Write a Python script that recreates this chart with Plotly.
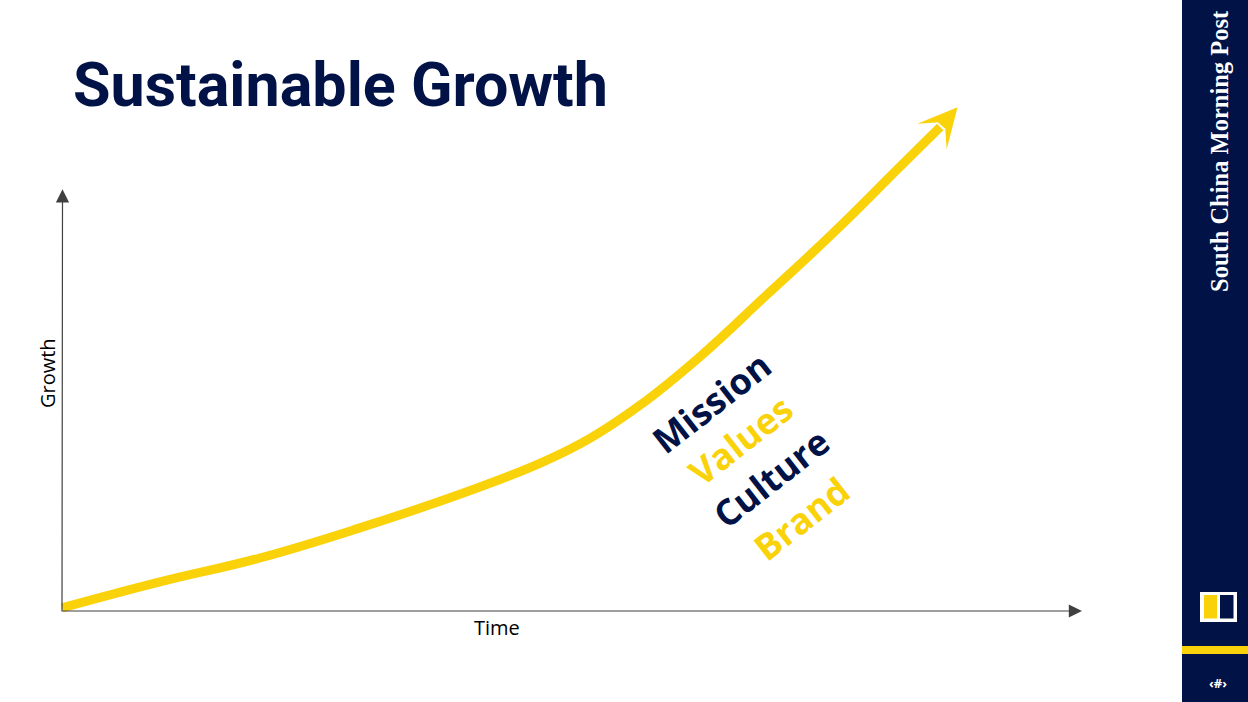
import plotly.graph_objects as go

# ---- data ----
time_vals = [0, 9.6, 19.4, 29.2, 39.0, 46.9, 51.8, 56.7, 62.5, 69.1, 75.6, 82.2, 86.1]
growth_vals = [0.4, 5.5, 10.2, 16.1, 22.7, 28.8, 33.7, 40.2, 49.6, 61.8, 73.9, 87.0, 94.7]
arrow_tip = (87.8, 98.6)
words = ["Mission", "Values", "Culture", "Brand"]
word_x = [63.7, 66.5, 69.6, 72.5]
word_y = [40.6, 33.3, 25.9, 18.0]
title_text = "Sustainable Growth"
x_label = "Time"
y_label = "Growth"
brand_text = "South China Morning Post"
page_text = "‹#›"

NAVY = "#001246"
YELLOW = "#FAD20A"
GRAY = "#404040"
W, H = 1248, 702
PX_X, PX_Y = 10.2, 5.1  # pixels per data unit
X0_PX, Y0_PX = 62, 610  # pixel of data origin

fig = go.Figure()

fig.add_trace(go.Scatter(
    x=time_vals, y=growth_vals, mode="lines",
    line=dict(color=YELLOW, width=9, shape="spline", smoothing=1.2),
    cliponaxis=False, hoverinfo="skip", showlegend=False,
))

ann = []
# arrow head of the growth curve
ann.append(dict(x=arrow_tip[0], y=arrow_tip[1], ax=time_vals[-1], ay=growth_vals[-1],
                xref="x", yref="y", axref="x", ayref="y", showarrow=True,
                arrowhead=3, arrowsize=0.72, arrowwidth=9, arrowcolor=YELLOW, text=""))
# axes with arrows
ann.append(dict(x=100, y=-0.2, ax=-0.1, ay=-0.2, xref="x", yref="y", axref="x", ayref="y",
                showarrow=True, arrowhead=2, arrowsize=2.2, arrowwidth=1.2,
                arrowcolor=GRAY, text=""))
ann.append(dict(x=0.05, y=82.5, ax=0, ay=-0.6, xref="x", yref="y", axref="x", ayref="y",
                showarrow=True, arrowhead=2, arrowsize=2.2, arrowwidth=1.2,
                arrowcolor=GRAY, text=""))
# axis labels
ann.append(dict(x=497 / W, y=1 - 627 / H, xref="paper", yref="paper", text=x_label,
                showarrow=False, xanchor="center", yanchor="middle",
                font=dict(family="Open Sans", size=20, color="#000000")))
ann.append(dict(x=47 / W, y=1 - 373 / H, xref="paper", yref="paper", text=y_label,
                showarrow=False, xanchor="center", yanchor="middle", textangle=-90,
                font=dict(family="Open Sans", size=20, color="#000000")))
# rotated words
for i, (w, wx, wy) in enumerate(zip(words, word_x, word_y)):
    ann.append(dict(x=wx, y=wy, xref="x", yref="y", text="<b>%s</b>" % w, showarrow=False,
                    textangle=-38, xanchor="center", yanchor="middle",
                    font=dict(family="Open Sans", size=36, color=NAVY if i % 2 == 0 else YELLOW)))
# title
ann.append(dict(x=71 / W, y=1 - 85 / H, xref="paper", yref="paper", xanchor="left",
                yanchor="middle", text="<b>%s</b>" % title_text, showarrow=False,
                font=dict(family="Roboto", size=61, color=NAVY)))
# sidebar text
ann.append(dict(x=1219 / W, y=1 - 151 / H, xref="paper", yref="paper", text="<b>%s</b>" % brand_text,
                showarrow=False, textangle=-90, xanchor="center", yanchor="middle",
                font=dict(family="Liberation Serif", size=24.5, color="#ffffff")))
ann.append(dict(x=1218 / W, y=1 - 683 / H, xref="paper", yref="paper", text="<b>%s</b>" % page_text,
                showarrow=False, xanchor="center", yanchor="middle",
                font=dict(family="Noto Sans", size=13, color="#ffffff")))

def prect(x0, y0, x1, y1, color):
    return dict(type="rect", xref="paper", yref="paper", x0=x0 / W, x1=x1 / W,
                y0=1 - y1 / H, y1=1 - y0 / H, fillcolor=color, line=dict(width=0), layer="below")

shapes = [
    prect(1182, 0, 1248, 702, NAVY),
    prect(1182, 646, 1248, 654, YELLOW),
    prect(1200, 592, 1237, 622, "#ffffff"),
    prect(1204, 595, 1217, 618.5, YELLOW),
    prect(1220, 595, 1233.5, 618.5, NAVY),
]

xr = [-2, 102]
yr = [-2, 100]
fig.update_layout(
    width=W, height=H, margin=dict(l=0, r=0, t=0, b=0),
    paper_bgcolor="#ffffff", plot_bgcolor="rgba(0,0,0,0)",
    xaxis=dict(domain=[(X0_PX + xr[0] * PX_X) / W, (X0_PX + xr[1] * PX_X) / W],
               range=xr, visible=False, fixedrange=True),
    yaxis=dict(domain=[(H - (Y0_PX - yr[0] * PX_Y)) / H, (H - (Y0_PX - yr[1] * PX_Y)) / H],
               range=yr, visible=False, fixedrange=True),
    annotations=ann, shapes=shapes, showlegend=False,
)

fig.write_html("out.html", config={"displayModeBar": False},
               post_script="document.body.style.margin='0';document.body.style.overflow='hidden';")
